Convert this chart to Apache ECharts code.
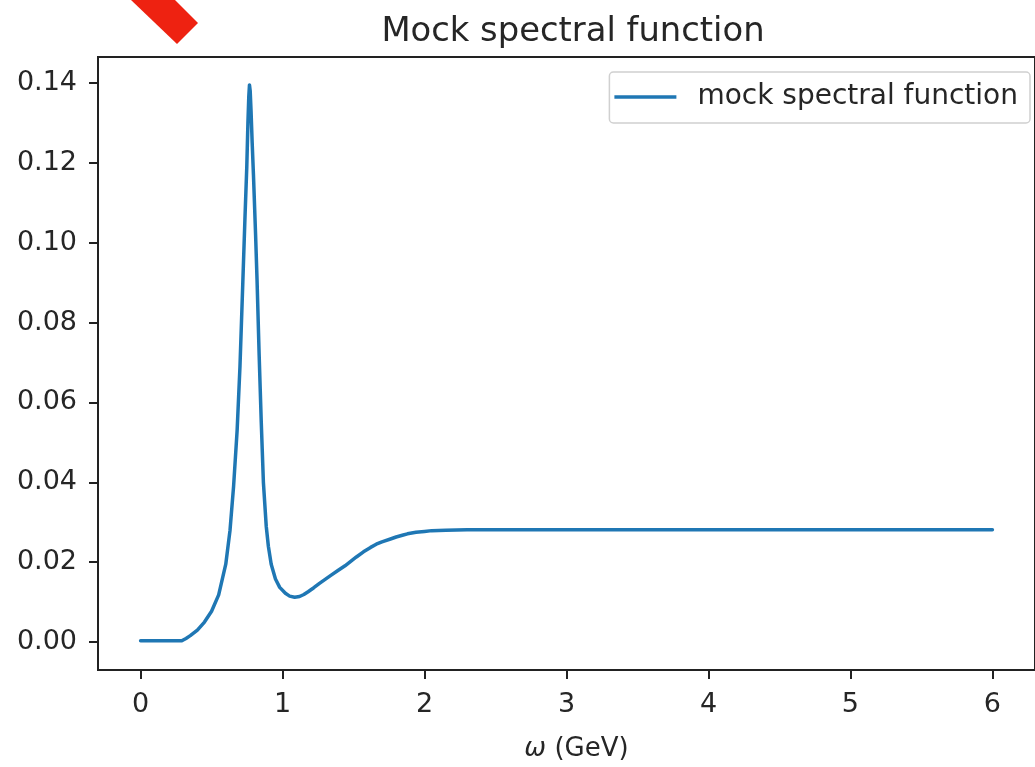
<!DOCTYPE html>
<html>
<head>
<meta charset="utf-8">
<script src="https://cdn.jsdelivr.net/npm/echarts@6/dist/echarts.min.js"></script>
<style>html,body{margin:0;padding:0;background:#fff}#c{width:1035px;height:767px}</style>
</head>
<body>
<div id="c"></div>
<script>
// omega (GeV)
var omega = [0, 0.1, 0.2, 0.29, 0.32, 0.35, 0.40, 0.45, 0.50, 0.55, 0.60, 0.63, 0.655, 0.68, 0.70, 0.72, 0.735, 0.748, 0.756, 0.762, 0.767, 0.772, 0.778, 0.786, 0.795, 0.81, 0.82, 0.835, 0.85, 0.865, 0.885, 0.90, 0.92, 0.95, 0.98, 1.02, 1.05, 1.085, 1.12, 1.15, 1.18, 1.22, 1.26, 1.30, 1.34, 1.39, 1.44, 1.48, 1.52, 1.57, 1.62, 1.66, 1.70, 1.76, 1.80, 1.85, 1.88, 1.94, 2.00, 2.05, 2.15, 2.30, 2.50, 3.0, 3.5, 4.0, 4.5, 5.0, 5.5, 6.0];
var spectral = [0.0003, 0.0003, 0.0003, 0.0003, 0.0009, 0.0016, 0.0030, 0.0050, 0.0077, 0.0118, 0.0195, 0.0280, 0.0390, 0.0530, 0.0690, 0.0900, 0.1060, 0.1190, 0.1300, 0.1365, 0.1395, 0.1380, 0.1330, 0.1250, 0.1170, 0.1020, 0.0910, 0.0720, 0.0550, 0.0400, 0.0290, 0.0240, 0.0195, 0.0158, 0.0137, 0.0122, 0.0115, 0.0112, 0.0114, 0.0119, 0.0126, 0.0136, 0.0147, 0.0157, 0.0167, 0.0179, 0.0191, 0.0202, 0.0213, 0.0226, 0.0237, 0.0245, 0.0251, 0.0258, 0.0263, 0.0268, 0.0271, 0.0275, 0.0277, 0.0279, 0.0280, 0.0281, 0.0281, 0.0281, 0.0281, 0.0281, 0.0281, 0.0281, 0.0281, 0.0281];
var xTicks = [0, 1, 2, 3, 4, 5, 6];
var yTicks = [0, 0.02, 0.04, 0.06, 0.08, 0.10, 0.12, 0.14];
var seriesName = 'mock spectral function';
var titleText = 'Mock spectral function';

var pts = omega.map(function (w, i) { return [w, spectral[i]]; });
var font = 'DejaVu Sans';
var chart = echarts.init(document.getElementById('c'));
chart.setOption({
  animation: false,
  backgroundColor: '#fff',
  title: {
    text: titleText, left: 568, top: 10, textAlign: 'center',
    textStyle: { fontFamily: font, fontSize: 33.8, fontWeight: 'normal', color: '#262626' }
  },
  legend: {
    right: 5, top: 72, padding: [11, 12, 12, 5],
    icon: 'rect', itemWidth: 62, itemHeight: 3.5,
    borderColor: '#d0d0d0', borderWidth: 1.5, borderRadius: 4,
    backgroundColor: '#fff',
    textStyle: { fontFamily: font, fontSize: 28, color: '#262626', padding: [0, 0, 0, 16] },
    data: [seriesName]
  },
  grid: { left: 98, top: 57, width: 947, height: 616, show: true, borderColor: '#222', borderWidth: 2, backgroundColor: 'transparent' },
  xAxis: {
    type: 'value', min: -0.3, max: 6.3,
    name: '{i|ω} (GeV)', nameLocation: 'middle', nameGap: 66,
    nameTextStyle: { fontFamily: font, fontSize: 26, color: '#262626', padding: [0, 0, 0, 20],
      rich: { i: { fontFamily: font, fontStyle: 'italic', fontSize: 26, color: '#262626' } } },
    axisLine: { show: true, onZero: false, lineStyle: { color: '#222', width: 2 } },
    axisTick: { show: true, customValues: xTicks, length: 9, lineStyle: { color: '#222', width: 2 } },
    axisLabel: { customValues: xTicks, margin: 21, fontFamily: font, fontSize: 27, color: '#262626',
      formatter: function (v) { return String(Math.round(v)); } },
    splitLine: { show: false }
  },
  yAxis: {
    type: 'value', min: -0.007, max: 0.1465,
    axisLine: { show: true, onZero: false, lineStyle: { color: '#222', width: 2 } },
    axisTick: { show: true, customValues: yTicks, length: 9, lineStyle: { color: '#222', width: 2 } },
    axisLabel: { customValues: yTicks, margin: 21, fontFamily: font, fontSize: 27, color: '#262626',
      formatter: function (v) { return v.toFixed(2); } },
    splitLine: { show: false }
  },
  series: [{
    name: seriesName, type: 'line', data: pts, showSymbol: false, symbol: 'none',
    smooth: false,
    lineStyle: { color: '#1f77b4', width: 3.5, join: 'round', cap: 'round' }, itemStyle: { color: '#1f77b4' }
  }],
  graphic: [{
    type: 'polygon', shape: { points: [[131, 0], [175, 0], [198, 23], [177, 44]] },
    style: { fill: '#ee2211' }, z: 100
  }]
});
</script>
</body>
</html>
